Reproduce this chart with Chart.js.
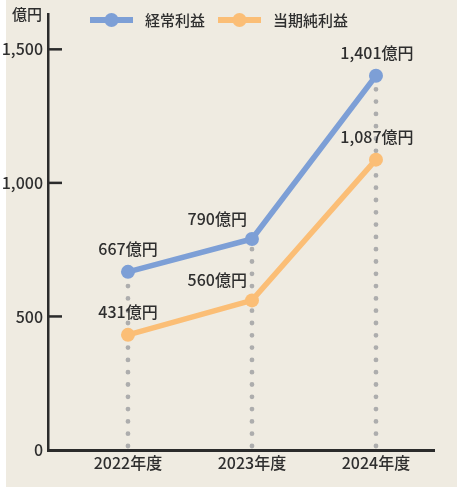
<!DOCTYPE html>
<html>
<head>
<meta charset="utf-8">
<script src="https://cdn.jsdelivr.net/npm/chart.js@4"></script>
<style>
  html, body { margin: 0; padding: 0; background: #fff; }
  #panel { position: absolute; left: 6px; top: 0; width: 451px; height: 487px; background: #efebe1; }
  #wrap { position: absolute; left: 0; top: 0; width: 457px; height: 488px; }
</style>
</head>
<body>
<div id="panel"></div>
<div id="wrap"><canvas id="chart"></canvas></div>
<script>
// data
const years = ['2022年度', '2023年度', '2024年度'];
const ordinaryProfit = [667, 790, 1401];
const netProfit = [431, 560, 1087];
const yTicks = [0, 500, 1000, 1500];
const unitLabel = '億円';

const FONT = '"Noto Sans CJK JP", "Noto Sans", sans-serif';
const TEXT = '#2e2e2e';
const blue = '#7d9fd6';
const orange = '#fbbe76';

const ctx = document.getElementById('chart');

function fmt(v) {
  return v.toLocaleString('en-US');
}

// dotted drop lines + tick marks + unit label + legend + value labels
const decor = {
  id: 'decor',
  beforeDatasetsDraw(chart) {
    const c = chart.ctx;
    const x = chart.scales.x, y = chart.scales.y;
    c.save();
    c.strokeStyle = '#adadad';
    c.lineWidth = 4.8;
    c.lineCap = 'round';
    c.setLineDash([0, 12.3]);
    years.forEach((_, i) => {
      const top = Math.max(ordinaryProfit[i], netProfit[i]);
      const px = x.getPixelForValue(i);
      c.beginPath();
      c.moveTo(px, y.getPixelForValue(0) - 4);
      c.lineTo(px, y.getPixelForValue(top));
      c.stroke();
    });
    c.restore();
  },
  afterDraw(chart) {
    const c = chart.ctx;
    const x = chart.scales.x, y = chart.scales.y;
    const area = chart.chartArea;
    c.save();
    // inward tick marks on y axis
    c.strokeStyle = '#2b2b2b';
    c.lineWidth = 2.5;
    yTicks.slice(1).forEach(v => {
      const py = y.getPixelForValue(v);
      c.beginPath();
      c.moveTo(area.left, py);
      c.lineTo(area.left + 14, py);
      c.stroke();
    });
    // unit label
    c.fillStyle = TEXT;
    c.font = '500 15px ' + FONT;
    c.textAlign = 'right';
    c.textBaseline = 'middle';
    c.fillText(unitLabel, 42, 14);

    // legend
    const legend = [[90, blue, chart.data.datasets[0].label], [218, orange, chart.data.datasets[1].label]];
    legend.forEach(([lx, col, txt]) => {
      c.strokeStyle = col;
      c.lineWidth = 6;
      c.lineCap = 'butt';
      c.beginPath();
      c.moveTo(lx, 20);
      c.lineTo(lx + 43, 20);
      c.stroke();
      c.fillStyle = col;
      c.beginPath();
      c.arc(lx + 21.5, 20, 7, 0, Math.PI * 2);
      c.fill();
      c.fillStyle = TEXT;
      c.font = '500 15px ' + FONT;
      c.textAlign = 'left';
      c.fillText(txt, lx + 55, 20);
    });

    // value labels
    c.font = '500 16px ' + FONT;
    c.fillStyle = TEXT;
    chart.data.datasets.forEach((ds, di) => {
      const meta = chart.getDatasetMeta(di);
      meta.data.forEach((pt, i) => {
        const txt = fmt(ds.data[i].y) + unitLabel;
        if (i === 1) {
          c.textAlign = 'right';
          c.fillText(txt, pt.x - 5, pt.y - 20);
        } else {
          c.textAlign = 'center';
          c.fillText(txt, pt.x + (i === 2 ? 1 : 0), pt.y - 23);
        }
      });
    });
    c.restore();
  }
};

new Chart(ctx, {
  type: 'line',
  data: {
    datasets: [{
      label: '経常利益',
      data: ordinaryProfit.map((v, i) => ({x: i, y: v})),
      borderColor: blue,
      backgroundColor: blue,
      borderWidth: 5.5,
      pointRadius: 7,
      pointHoverRadius: 7,
      pointBorderWidth: 0
    }, {
      label: '当期純利益',
      data: netProfit.map((v, i) => ({x: i, y: v})),
      borderColor: orange,
      backgroundColor: orange,
      borderWidth: 5.5,
      pointRadius: 7,
      pointHoverRadius: 7,
      pointBorderWidth: 0
    }]
  },
  options: {
    responsive: true,
    maintainAspectRatio: false,
    animation: false,
    layout: { padding: { top: 14, right: 23, left: 0, bottom: 0 } },
    plugins: {
      legend: { display: false },
      tooltip: { enabled: false }
    },
    scales: {
      x: {
        type: 'linear',
        min: -0.645,
        max: 2.468,
        afterBuildTicks: (scale) => { scale.ticks = years.map((_, i) => ({value: i})); },
        afterFit: (scale) => { scale.height = 38; },
        ticks: {
          callback: (v) => years[v],
          color: TEXT,
          font: { family: FONT, size: 16, weight: '500' },
          padding: 3,
          maxRotation: 0
        },
        grid: { display: true, drawOnChartArea: false, drawTicks: false },
        border: { color: '#2b2b2b', width: 3 }
      },
      y: {
        min: 0,
        max: 1630,
        afterBuildTicks: (scale) => { scale.ticks = yTicks.map(v => ({value: v})); },
        afterFit: (scale) => { scale.width = 48; },
        ticks: {
          callback: (v) => fmt(v),
          color: TEXT,
          font: { family: FONT, size: 16, weight: '500' },
          padding: 5
        },
        grid: { display: true, drawOnChartArea: false, drawTicks: false },
        border: { color: '#2b2b2b', width: 2.5 }
      }
    }
  },
  plugins: [decor]
});
</script>
</body>
</html>
